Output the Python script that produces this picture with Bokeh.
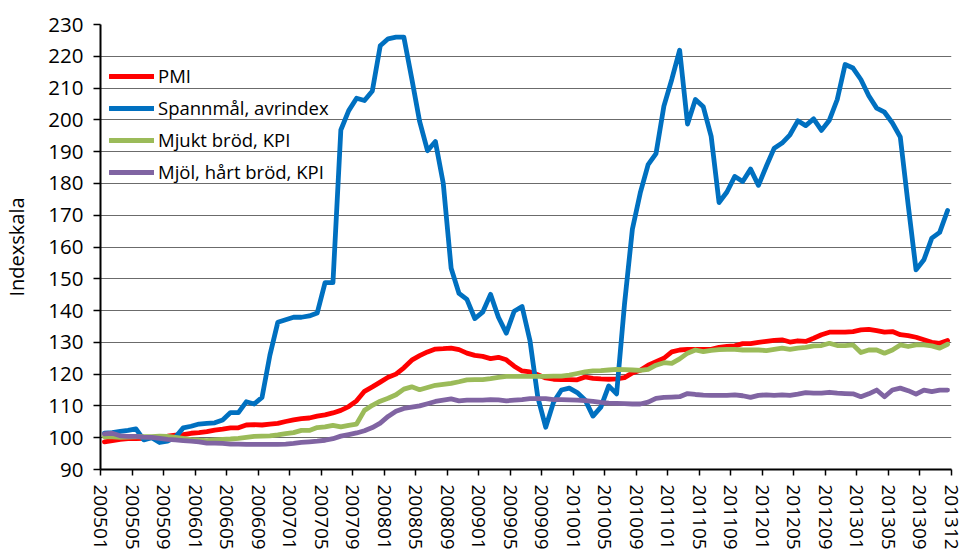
from bokeh.plotting import figure
from bokeh.models import Range1d, FixedTicker
from bokeh.embed import file_html
from bokeh.resources import INLINE

# Tick labels on the category axis (every 4th month, plus the last month)
tick_labels = ["200501", "200505", "200509", "200601", "200605", "200609", "200701",
               "200705", "200709", "200801", "200805", "200809", "200901", "200905",
               "200909", "201001", "201005", "201009", "201101", "201105", "201109",
               "201201", "201205", "201209", "201301", "201305", "201309", "201312"]

# Monthly series 200501 .. 201312 (108 months)
pmi = [98.7, 99.1, 99.5, 99.7, 99.7, 99.8, 100.0, 100.3, 100.5, 100.8, 101.0, 101.4,
       101.6, 101.9, 102.4, 102.7, 103.1, 103.1, 104.0, 104.1, 104.0, 104.3, 104.5, 105.1,
       105.6, 106.0, 106.2, 106.8, 107.2, 107.8, 108.6, 109.8, 111.6, 114.6, 116.0, 117.5,
       119.0, 120.0, 122.0, 124.4, 125.8, 127.0, 127.9, 128.0, 128.2, 127.7, 126.6, 125.9,
       125.6, 124.9, 125.3, 124.5, 122.5, 121.0, 120.7, 119.8, 118.8, 118.4, 118.3, 118.3,
       118.2, 119.1, 118.7, 118.5, 118.4, 118.5, 118.9, 120.4, 121.2, 122.8, 123.9, 125.0,
       127.0, 127.6, 127.8, 127.8, 127.8, 127.8, 128.4, 128.7, 128.9, 129.6, 129.6, 130.0,
       130.3, 130.6, 130.8, 130.1, 130.5, 130.3, 131.3, 132.4, 133.2, 133.2, 133.2, 133.4,
       133.9, 134.1, 133.7, 133.2, 133.4, 132.4, 132.1, 131.6, 130.8, 130.0, 129.7, 130.6]

spannmal = [101.4, 101.6, 102.0, 102.3, 102.8, 99.3, 100.0, 98.5, 98.9, 100.1, 103.1, 103.6,
            104.3, 104.5, 104.7, 105.6, 107.9, 107.9, 111.3, 110.6, 112.7, 126.0, 136.3, 137.1,
            137.9, 137.9, 138.3, 139.2, 148.8, 148.8, 196.8, 202.9, 206.8, 206.1, 209.1, 223.3,
            225.5, 226.0, 226.0, 213.0, 199.5, 190.3, 193.2, 180.0, 153.3, 145.4, 143.5, 137.5,
            139.5, 145.1, 137.9, 132.9, 139.8, 141.3, 130.6, 112.7, 103.3, 111.2, 115.0, 115.6,
            114.2, 111.9, 106.8, 109.6, 116.3, 113.8, 142.0, 165.6, 177.0, 185.9, 189.4, 204.3,
            212.7, 221.9, 198.7, 206.4, 204.1, 194.8, 174.0, 177.3, 182.2, 180.6, 184.5, 179.4,
            185.4, 191.1, 192.7, 195.3, 199.7, 198.2, 200.3, 196.7, 199.9, 206.4, 217.4, 216.3,
            212.7, 207.6, 203.7, 202.4, 199.0, 194.6, 173.3, 152.8, 156.0, 162.8, 164.6, 171.5]

mjukt_brod = [100.3, 100.3, 100.1, 100.2, 100.3, 100.3, 100.3, 100.5, 100.4, 100.1, 99.8, 99.4,
              99.2, 99.1, 99.3, 99.5, 99.6, 99.8, 100.1, 100.4, 100.5, 100.6, 100.9, 101.3,
              101.6, 102.3, 102.3, 103.2, 103.4, 103.9, 103.4, 103.9, 104.3, 108.6, 110.2, 111.5,
              112.4, 113.5, 115.3, 116.0, 115.1, 115.8, 116.5, 116.8, 117.1, 117.6, 118.2, 118.3,
              118.3, 118.6, 119.0, 119.3, 119.3, 119.3, 119.3, 119.3, 119.3, 119.4, 119.4, 119.7,
              120.2, 120.7, 121.0, 121.1, 121.3, 121.5, 121.4, 121.3, 121.2, 121.5, 122.8, 123.6,
              123.4, 124.8, 126.6, 127.6, 127.1, 127.5, 127.7, 127.8, 127.8, 127.6, 127.6, 127.6,
              127.4, 127.8, 128.2, 127.8, 128.2, 128.4, 128.9, 129.0, 129.7, 129.0, 129.0, 129.2,
              126.8, 127.6, 127.6, 126.6, 127.6, 129.2, 128.7, 129.2, 129.2, 128.9, 128.2, 129.4]

mjol_hart_brod = [101.2, 101.4, 100.6, 100.4, 100.4, 100.2, 100.1, 99.8, 99.5, 99.3, 99.1, 98.9,
                  98.7, 98.3, 98.3, 98.2, 98.0, 98.0, 97.9, 97.9, 97.9, 97.9, 97.9, 98.0,
                  98.2, 98.5, 98.7, 98.9, 99.2, 99.7, 100.5, 101.0, 101.5, 102.2, 103.2, 104.6,
                  106.7, 108.3, 109.2, 109.6, 110.0, 110.7, 111.4, 111.8, 112.2, 111.6, 111.8, 111.8,
                  111.8, 112.0, 111.9, 111.6, 111.8, 112.0, 112.3, 112.3, 112.3, 112.0, 112.0, 111.9,
                  111.8, 111.7, 111.4, 111.1, 110.9, 110.8, 110.7, 110.6, 110.6, 111.2, 112.4, 112.7,
                  112.8, 112.9, 113.9, 113.6, 113.4, 113.3, 113.3, 113.3, 113.5, 113.2, 112.7, 113.3,
                  113.5, 113.3, 113.5, 113.3, 113.7, 114.2, 114.0, 114.0, 114.3, 114.0, 113.9, 113.8,
                  112.9, 113.8, 115.0, 112.9, 115.0, 115.6, 114.8, 113.7, 115.0, 114.5, 115.0, 115.0]

series_names = ["PMI", "Spannmål, avrindex", "Mjukt bröd, KPI", "Mjöl, hårt bröd, KPI"]
series_colors = ["#FF0000", "#0070C0", "#9BBB59", "#8064A2"]
y_ticks = list(range(90, 240, 10))

FONT = "Open Sans"
n = len(pmi)
xs = [i + 0.5 for i in range(n)]          # points centred in their month slot
tick_pos = list(range(0, n + 1, 4))       # tick marks at slot boundaries

p = figure(width=966, height=552, output_backend="svg", toolbar_location=None,
           x_range=Range1d(0, n), y_range=Range1d(90, 230),
           min_border_left=100, min_border_top=24, min_border_right=15, min_border_bottom=83)
p.outline_line_color = None
p.background_fill_color = "white"
p.border_fill_color = "white"

for vals, name, col in zip([pmi, spannmal, mjukt_brod, mjol_hart_brod], series_names, series_colors):
    p.line(xs, vals, line_color=col, line_width=4.8, legend_label=name,
           line_join="round", line_cap="round")

# x axis
p.xaxis.ticker = FixedTicker(ticks=tick_pos)
p.xaxis.major_label_overrides = {pos: lab for pos, lab in zip(tick_pos, tick_labels)}
p.xaxis.major_label_orientation = "vertical"
p.xaxis.major_label_text_font = FONT
p.xaxis.major_label_text_font_size = "19px"
p.xaxis.major_label_text_color = "black"
p.xaxis.major_label_standoff = 9
p.xaxis.axis_line_color = "black"
p.xaxis.axis_line_width = 2
p.xaxis.major_tick_line_color = "black"
p.xaxis.major_tick_line_width = 1.5
p.xaxis.major_tick_out = 6
p.xaxis.major_tick_in = 0
p.xaxis.minor_tick_line_color = None

# y axis
p.yaxis.ticker = FixedTicker(ticks=y_ticks)
p.yaxis.axis_label = "Indexskala"
p.yaxis.axis_label_text_font = FONT
p.yaxis.axis_label_text_font_style = "normal"
p.yaxis.axis_label_text_font_size = "20px"
p.yaxis.axis_label_text_color = "black"
p.yaxis.axis_label_standoff = 15
p.yaxis.major_label_text_font = FONT
p.yaxis.major_label_text_font_size = "20.5px"
p.yaxis.major_label_text_color = "black"
p.yaxis.major_label_standoff = 10
p.yaxis.axis_line_color = "black"
p.yaxis.axis_line_width = 2
p.yaxis.major_tick_line_color = "black"
p.yaxis.major_tick_line_width = 1.5
p.yaxis.major_tick_out = 7
p.yaxis.major_tick_in = 0
p.yaxis.minor_tick_line_color = None

p.xgrid.visible = False
p.ygrid.ticker = FixedTicker(ticks=y_ticks)
p.ygrid.grid_line_color = "#6b6b6b"
p.ygrid.grid_line_width = 1.2

lg = p.legend[0]
lg.location = (9, 285)
lg.border_line_color = None
lg.background_fill_alpha = 0
lg.padding = 0
lg.margin = 0
lg.spacing = 7
lg.glyph_width = 45
lg.glyph_height = 20
lg.label_height = 20
lg.label_standoff = 4
lg.label_text_font = FONT
lg.label_text_font_size = "18.5px"
lg.label_text_color = "black"

open("out.html", "w").write(file_html(p, INLINE))
